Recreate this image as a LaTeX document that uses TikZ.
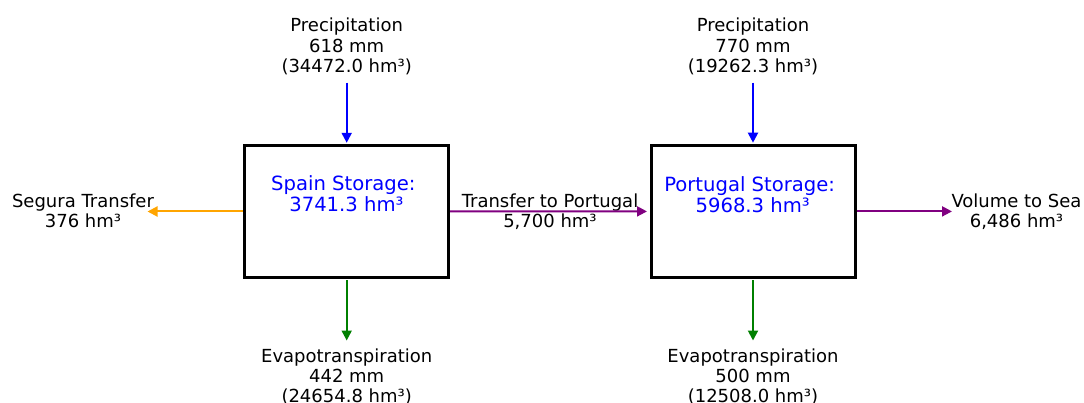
\documentclass[tikz,border=0pt]{standalone}
\usepackage{fontspec}
\setmainfont{DejaVu Sans}
\usetikzlibrary{arrows.meta}
\definecolor{cblue}{RGB}{0,0,255}
\definecolor{corange}{RGB}{255,165,0}
\definecolor{cgreen}{RGB}{0,128,0}
\definecolor{cpurple}{RGB}{128,0,128}
\begin{document}
\begin{tikzpicture}[x=1pt,y=-1pt,
  lbl/.style={align=center, anchor=base, inner sep=0pt, font=\fontsize{18pt}{20.4pt}\selectfont},
  store/.style={draw=black, line width=3pt, minimum width=204pt, minimum height=131.4pt, inner sep=0pt, fill=white},
  stxt/.style={align=center, anchor=base, inner sep=0pt, text=cblue, font=\fontsize{19.6pt}{21pt}\selectfont},
  flow/.style={line width=2pt, -{Triangle[length=10pt,width=10pt]}},
]
\useasboundingbox[fill=white] (0,0) rectangle (1084,403);

% storage boxes
\node[store] (spain) at (346.7,211.5) {};
\node[store] (portugal) at (753,211.4) {};
\node[stxt] (spainT) at (343.3,212) {Spain Storage:\\\ 3741.3 hm³};
\node[stxt] (portT) at (749.6,212.2) {Portugal Storage:\\\ 5968.3 hm³};

% labels (anchor base = baseline of the last line)
\node[lbl] (precS) at (346.7,72.8) {Precipitation\\618 mm\\(34472.0 hm³)};
\node[lbl] (precP) at (753,72.8) {Precipitation\\770 mm\\(19262.3 hm³)};
\node[lbl] (evapS) at (346.7,402.8) {Evapotranspiration\\442 mm\\(24654.8 hm³)};
\node[lbl] (evapP) at (753,402.8) {Evapotranspiration\\500 mm\\(12508.0 hm³)};
\node[lbl] (segura) at (83,227.5) {Segura Transfer\\376 hm³};
\node[lbl] (transfer) at (550,227.6) {Transfer to Portugal\\5,700 hm³};
\node[lbl] (sea) at (1016.5,227.5) {Volume to Sea\\6,486 hm³};

% free ends of connectors near labels
\coordinate (precSend) at (346.7,82.7);
\coordinate (precPend) at (753,82.7);
\coordinate (evapSend) at (346.7,340.5);
\coordinate (evapPend) at (753,340.5);
\coordinate (seguraEnd) at (147.5,211.5);
\coordinate (seaEnd) at (952,211.4);

% connectors
\draw[flow, cblue, shorten >=1.5pt] (precSend) -- (spain.north);
\draw[flow, cblue, shorten >=1.5pt] (precPend) -- (portugal.north);
\draw[flow, cgreen, shorten <=1.5pt] (spain.south) -- (evapSend);
\draw[flow, cgreen, shorten <=1.5pt] (portugal.south) -- (evapPend);
\draw[flow, corange] (spain.west) -- (seguraEnd);
\draw[flow, cpurple, shorten >=2.5pt] (spain.east) -- (portugal.west);
\draw[flow, cpurple] (portugal.east) -- (seaEnd);
\end{tikzpicture}
\end{document}
